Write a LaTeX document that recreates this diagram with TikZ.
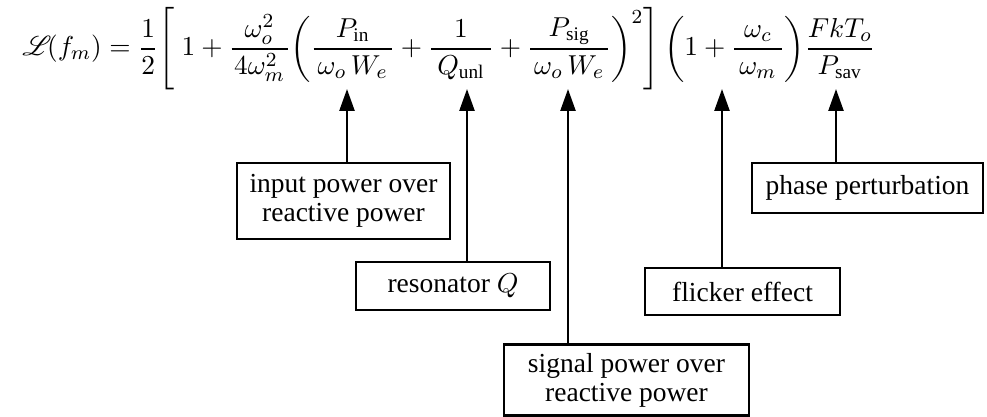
\documentclass[tikz,border=0pt]{standalone}
\usepackage{amsmath,amssymb}
\usepackage{mathrsfs}
\usepackage{fontspec}
\setmainfont{Liberation Serif}
\usetikzlibrary{arrows.meta,positioning}
\newcommand{\wfrac}[3]{\frac{\hspace{#1}#2\hspace{#1}}{\hspace{#1}#3\hspace{#1}}}

\begin{document}
\begin{tikzpicture}[x=0.4pt,y=-0.4pt,>={Triangle[length=8.8pt,width=6pt]},
  note/.style={draw,line width=0.9pt,inner sep=2pt,align=center,font=\fontsize{11}{11.6}\selectfont},
  pointer/.style={->,line width=1pt}]
  \useasboundingbox (0,0) rectangle (987,417);
  \node[anchor=west,inner sep=0,font=\fontsize{11}{13}\selectfont] (eq) at (22,49)
    {$\displaystyle \mathscr{L}\mkern-3mu(f_m)=\frac{1}{2}\Biggl[\hspace{3pt}1+\wfrac{1pt}{\omega_o^2}{4\omega_m^2}\biggl(\wfrac{1.6pt}{P_{\mathrm{in}}}{\omega_o\,W_e}+\wfrac{2.4pt}{1}{Q_{\mathrm{unl}}}+\wfrac{1.6pt}{P_{\mathrm{sig}}}{\omega_o\,W_e}\biggr)^{2}\Biggr]\,\biggl(1+\wfrac{2pt}{\omega_c}{\omega_m}\biggr)\frac{FkT_o}{P_{\mathrm{sav}}}$};
  \coordinate (tin) at (347,89);
  \coordinate (tres) at (467,89);
  \coordinate (tsig) at (568,89);
  \coordinate (tflk) at (722,89);
  \coordinate (tph) at (836,89);
  \node[note,minimum width=85.2pt,minimum height=30.4pt] (inbox) at (343.5,201) {input power over\\reactive power};
  \node[note,minimum width=77.6pt,minimum height=19.2pt] (resbox) at (453,286) {resonator $Q$};
  \node[note,minimum width=98pt,minimum height=28.4pt] (sigbox) at (626.5,380) {signal power over\\reactive power};
  \node[note,minimum width=78pt,minimum height=18.8pt] (flkbox) at (742.5,291.5) {flicker effect};
  \node[note,minimum width=92.4pt,minimum height=20pt] (phbox) at (867.5,188) {phase perturbation};
  \draw[pointer] (inbox.north -| tin) -- (tin);
  \draw[pointer] (resbox.north -| tres) -- (tres);
  \draw[pointer] (sigbox.north -| tsig) -- (tsig);
  \draw[pointer] (flkbox.north -| tflk) -- (tflk);
  \draw[pointer] (phbox.north -| tph) -- (tph);
\end{tikzpicture}
\end{document}
